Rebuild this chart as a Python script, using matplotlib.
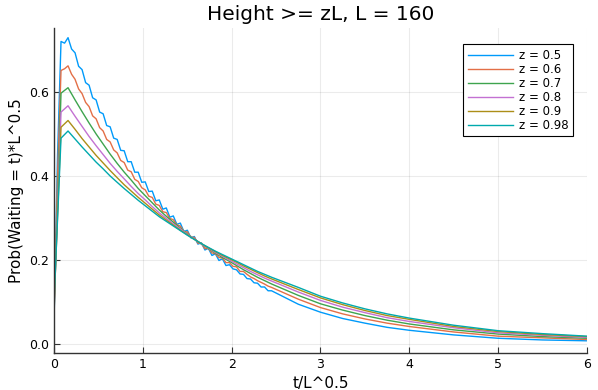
import numpy as np
import matplotlib
matplotlib.use("Agg")
import matplotlib.pyplot as plt

# fine t/L^0.5 grid (half steps of 1/sqrt(160)) for the wiggly curves
t_fine = [0.0, 0.040, 0.079, 0.119,
          0.158, 0.198, 0.237, 0.277, 0.316, 0.356, 0.395, 0.435, 0.474, 0.514,
          0.553, 0.593, 0.632, 0.672, 0.711, 0.751, 0.790, 0.830, 0.869, 0.909,
          0.948, 0.988, 1.027, 1.067, 1.106, 1.146, 1.185, 1.225, 1.264, 1.304,
          1.343, 1.383, 1.422, 1.462, 1.501, 1.541, 1.580, 1.620, 1.659, 1.699,
          1.738, 1.778, 1.817, 1.857, 1.896, 1.936, 1.975, 2.015, 2.054, 2.094,
          2.133, 2.173, 2.212, 2.252, 2.291, 2.331, 2.370, 2.410, 2.449,
          2.75, 3.0, 3.25, 3.5, 3.75, 4.0, 4.5, 5.0, 5.5, 6.0]

# coarser grid for the smooth curves
t = [0.0, 0.079, 0.158, 0.237, 0.316, 0.395, 0.474, 0.553, 0.632, 0.711,
     0.791, 0.870, 0.949, 1.028, 1.107, 1.186, 1.265, 1.344, 1.423, 1.502,
     1.581, 1.660, 1.739, 1.818, 1.897, 1.976, 2.055, 2.134, 2.213, 2.292,
     2.372, 2.451, 2.75, 3.0, 3.25, 3.5, 3.75, 4.0, 4.5, 5.0, 5.5, 6.0]

z05 = [0.05, 0.45, 0.720, 0.716,
       0.729, 0.702, 0.693, 0.661, 0.653, 0.622, 0.616, 0.586, 0.581, 0.552,
       0.548, 0.520, 0.517, 0.490, 0.487, 0.461, 0.460, 0.434, 0.434, 0.409,
       0.409, 0.385, 0.386, 0.363, 0.364, 0.341, 0.343, 0.321, 0.324, 0.302,
       0.305, 0.285, 0.288, 0.268, 0.271, 0.253, 0.256, 0.238, 0.241, 0.224,
       0.228, 0.211, 0.215, 0.199, 0.203, 0.187, 0.189, 0.179, 0.177, 0.167,
       0.166, 0.156, 0.155, 0.146, 0.145, 0.136, 0.136, 0.127, 0.127,
       0.095, 0.076, 0.061, 0.050, 0.040, 0.033, 0.022, 0.014, 0.010, 0.008]
z06 = [0.06, 0.40, 0.651, 0.655,
       0.662, 0.642, 0.630, 0.607, 0.596, 0.575, 0.565, 0.543, 0.536, 0.515,
       0.507, 0.487, 0.481, 0.462, 0.455, 0.437, 0.432, 0.414, 0.410, 0.392,
       0.387, 0.372, 0.367, 0.352, 0.349, 0.333, 0.330, 0.315, 0.313, 0.299,
       0.296, 0.284, 0.281, 0.268, 0.267, 0.254, 0.254, 0.240, 0.240, 0.227,
       0.228, 0.217, 0.215, 0.206, 0.205, 0.194, 0.194, 0.185, 0.184, 0.173,
       0.173, 0.166, 0.160, 0.156, 0.151, 0.147, 0.143, 0.138, 0.135,
       0.107, 0.087, 0.072, 0.060, 0.050, 0.042, 0.029, 0.019, 0.015, 0.011]
z07 = [0.07, 0.597, 0.610, 0.581, 0.553, 0.526, 0.500, 0.476, 0.452, 0.430,
       0.409, 0.390, 0.370, 0.353, 0.336, 0.319, 0.304, 0.290, 0.276, 0.262,
       0.250, 0.238, 0.227, 0.216, 0.206, 0.197, 0.187, 0.177, 0.168, 0.159,
       0.151, 0.143, 0.116, 0.096, 0.081, 0.068, 0.057, 0.048, 0.034, 0.024, 0.018, 0.014]
z08 = [0.08, 0.552, 0.567, 0.542, 0.518, 0.494, 0.472, 0.451, 0.430, 0.411,
       0.393, 0.375, 0.358, 0.343, 0.327, 0.312, 0.299, 0.286, 0.274, 0.261,
       0.250, 0.238, 0.228, 0.218, 0.209, 0.200, 0.191, 0.182, 0.173, 0.165,
       0.157, 0.150, 0.124, 0.104, 0.088, 0.075, 0.063, 0.054, 0.039, 0.027, 0.021, 0.016]
z09 = [0.09, 0.516, 0.532, 0.511, 0.489, 0.469, 0.449, 0.431, 0.413, 0.396,
       0.379, 0.364, 0.349, 0.335, 0.321, 0.307, 0.295, 0.283, 0.271, 0.260,
       0.249, 0.239, 0.229, 0.220, 0.211, 0.203, 0.195, 0.186, 0.178, 0.170,
       0.162, 0.155, 0.130, 0.110, 0.094, 0.080, 0.068, 0.059, 0.042, 0.030, 0.023, 0.018]
z098 = [0.10, 0.490, 0.507, 0.488, 0.469, 0.451, 0.433, 0.417, 0.400, 0.385,
        0.370, 0.356, 0.342, 0.329, 0.316, 0.303, 0.292, 0.281, 0.270, 0.259,
        0.249, 0.239, 0.230, 0.221, 0.213, 0.205, 0.197, 0.189, 0.181, 0.173,
        0.166, 0.159, 0.135, 0.114, 0.098, 0.084, 0.072, 0.062, 0.045, 0.032, 0.025, 0.019]

series = [(t_fine, z05), (t_fine, z06), (t, z07), (t, z08), (t, z09), (t, z098)]
labels = ["z = 0.5", "z = 0.6", "z = 0.7", "z = 0.8", "z = 0.9", "z = 0.98"]
colors = ["#009AFA", "#E36F47", "#3EA44E", "#C371D2", "#AC8E18", "#00A9AD"]

plt.rcParams['font.family'] = ['DejaVu Sans']

fig = plt.figure(figsize=(5.98, 3.9), dpi=100)
ax = fig.add_axes([0.0903, 0.0949, 0.8913, 0.8333])

for (xs, vals), lab, col in zip(series, labels, colors):
    ax.plot(xs, vals, color=col, lw=1.0, label=lab)

ax.set_xlim(0, 6)
ax.set_ylim(-0.021, 0.752)
ax.set_xticks([0, 1, 2, 3, 4, 5, 6])
ax.set_yticks([0.0, 0.2, 0.4, 0.6])
ax.set_yticklabels(["0.0", "0.2", "0.4", "0.6"])
ax.grid(True, color="black", alpha=0.08, lw=0.8)
for s in ["top", "right"]:
    ax.spines[s].set_visible(False)
for s in ["left", "bottom"]:
    ax.spines[s].set_color("#333333")
    ax.spines[s].set_linewidth(1.0)
ax.tick_params(direction="in", length=4, width=0.8, colors="#333333",
               labelsize=9, labelcolor="black")

ax.set_title("Height >= zL, L = 160", fontsize=14.5)
ax.set_xlabel("t/L^0.5", fontsize=11)
ax.set_ylabel("Prob(Waiting = t)*L^0.5", fontsize=11)

leg = ax.legend(loc="upper right", fontsize=8.5, frameon=True, fancybox=False,
                edgecolor="black", framealpha=1.0, handlelength=3.8,
                borderpad=0.4, labelspacing=0.08, handletextpad=0.5,
                bbox_to_anchor=(0.985, 0.968))
leg.get_frame().set_linewidth(0.8)

fig.savefig("out.png", dpi=100)
